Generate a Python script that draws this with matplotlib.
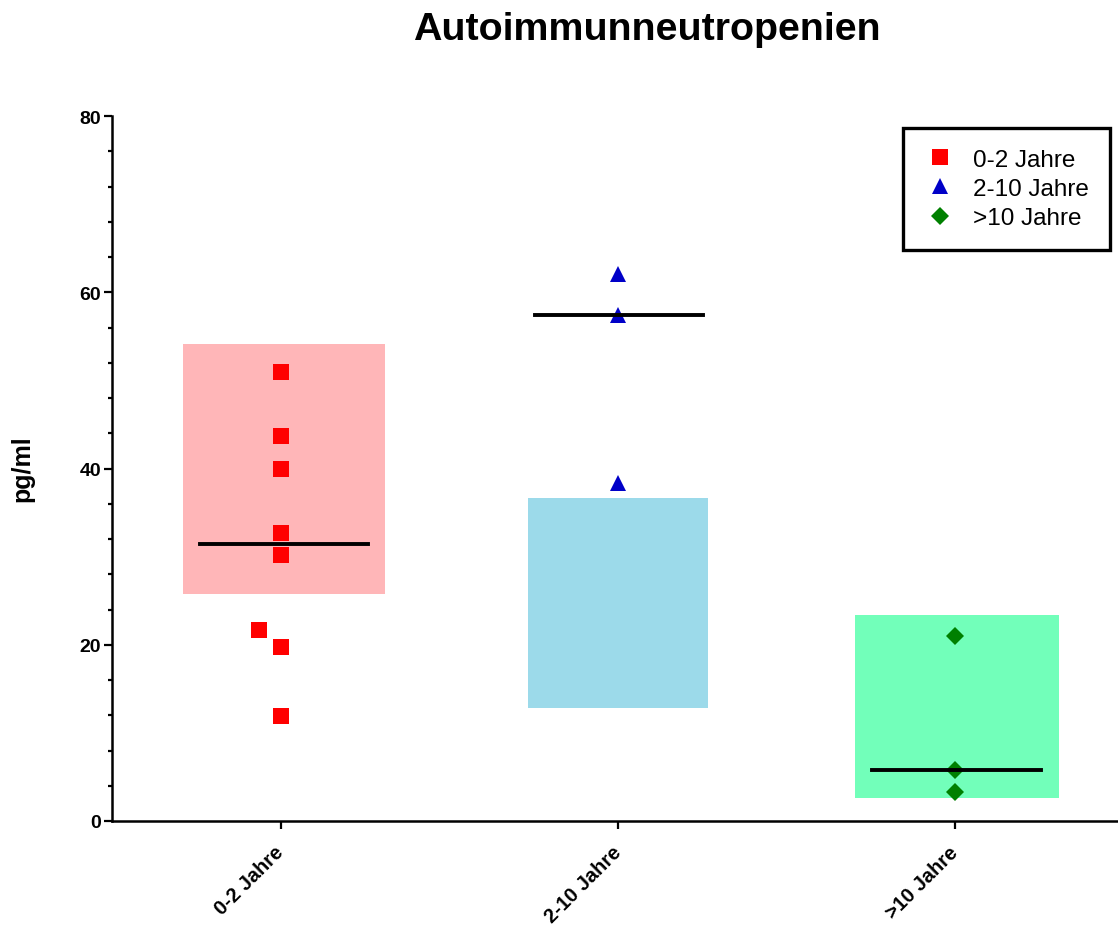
import matplotlib
matplotlib.use('Agg')
import matplotlib.pyplot as plt
from matplotlib.lines import Line2D
from matplotlib.ticker import MultipleLocator
import numpy as np

plt.rcParams['font.family'] = ['Liberation Sans', 'DejaVu Sans']

# age groups and measured values (pg/ml)
groups = ['0-2 Jahre', '2-10 Jahre', '>10 Jahre']
vals_0_2 = [51.0, 43.7, 39.9, 32.7, 30.2, 21.7, 19.7, 11.9]
vals_2_10 = [62.1, 57.4, 38.4]
vals_10 = [21.0, 5.8, 3.3]
# floating bars (low, high) per group
bar_low = [25.8, 12.8, 2.6]
bar_high = [54.1, 36.6, 23.4]

values = [vals_0_2, vals_2_10, vals_10]

# side offset so overlapping points stay visible
offsets = [[0, 0, 0, 0, 0, -0.065, 0, 0], [0, 0, 0], [0, 0, 0]]

pt_colors = ['#ff0000', '#0000c8', '#008000']
bar_colors = ['#ffb6b8', '#9cdaea', '#72ffba']
markers = ['s', '^', 'D']
msizes = [11.5, 11.5, 9.5]
bar_x = [0.01, 0.0, 0.005]
bar_w = [0.60, 0.535, 0.605]
med_x = [0.01, 0.003, 0.004]

fig = plt.figure(figsize=(11.18, 9.28), dpi=100)
ax = fig.add_axes([112 / 1118, 106 / 928, 1012 / 1118, 705 / 928])

for i, g in enumerate(groups):
    ax.bar(i + bar_x[i], bar_high[i] - bar_low[i], bottom=bar_low[i],
           width=bar_w[i], color=bar_colors[i], zorder=1)
    xs = i + np.array(offsets[i])
    ax.plot(xs, values[i], linestyle='none', marker=markers[i],
            markersize=msizes[i], color=pt_colors[i], markeredgewidth=0, zorder=3)
    med = np.median(values[i])
    ax.plot([i + med_x[i] - 0.25, i + med_x[i] + 0.25], [med, med],
            color='black', linewidth=2.8, zorder=4)

ax.set_xlim(-0.5, 2.5)
ax.set_ylim(0, 80)
ax.set_xticks(range(len(groups)))
ax.set_xticklabels(groups, rotation=45, ha='right', va='center', rotation_mode='anchor',
                   fontsize=14.5, fontweight='bold')
ax.yaxis.set_major_locator(MultipleLocator(20))
ax.yaxis.set_minor_locator(MultipleLocator(4))
for lbl in ax.get_yticklabels():
    lbl.set_fontweight('bold')
ax.tick_params(axis='y', which='major', labelsize=14, length=6, width=1.6, pad=2)
ax.tick_params(axis='y', which='minor', length=3, width=1.6)
ax.tick_params(axis='x', length=6, width=1.6, pad=14)

for side in ['top', 'right']:
    ax.spines[side].set_visible(False)
for side in ['left', 'bottom']:
    ax.spines[side].set_linewidth(1.8)

fig.text(22 / 1118, 1 - 469 / 928, 'pg/ml', rotation=90, ha='center', va='center',
         fontsize=18, fontweight='bold')
fig.text(647 / 1118, 1 - 39.5 / 928, 'Autoimmunneutropenien', ha='center', va='baseline',
         fontsize=28.4, fontweight='bold')

handles = [Line2D([], [], linestyle='none', marker=markers[i], color=pt_colors[i],
                  markersize=msizes[i] * 0.95, markeredgewidth=0) for i in range(3)]
leg = ax.legend(handles, groups, loc='upper right', bbox_to_anchor=(1110 / 1118, 1 - 129 / 928),
                bbox_transform=fig.transFigure, borderaxespad=0, fontsize=17.5,
                fancybox=False, framealpha=1, edgecolor='black', handlelength=1.34,
                handletextpad=0.69, labelspacing=0.3, borderpad=0.85)
leg.get_frame().set_linewidth(2.4)

fig.savefig('out.png', dpi=100)
